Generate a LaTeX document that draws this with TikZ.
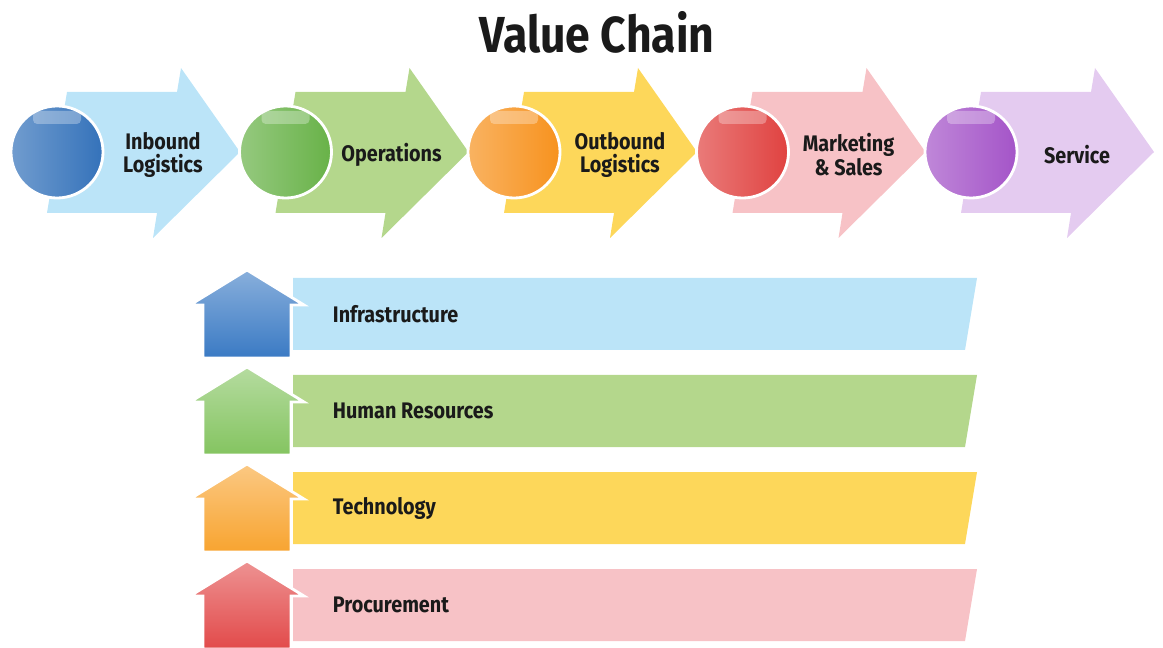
\documentclass[tikz,border=0pt]{standalone}
\usepackage{fontspec}
\setmainfont{Fira Sans}[FakeStretch=0.88]

\definecolor{arrBlue}{RGB}{187,228,248}
\definecolor{arrGreen}{RGB}{180,215,140}
\definecolor{arrYellow}{RGB}{253,215,90}
\definecolor{arrPink}{RGB}{247,194,198}
\definecolor{arrLilac}{RGB}{228,203,240}
\definecolor{ballBlue}{RGB}{52,114,186}
\definecolor{ballGreen}{RGB}{104,178,72}
\definecolor{ballOrange}{RGB}{247,146,30}
\definecolor{ballRed}{RGB}{224,66,64}
\definecolor{ballPurple}{RGB}{164,84,200}
\definecolor{houseBlue}{RGB}{58,122,196}
\definecolor{houseGreen}{RGB}{132,196,96}
\definecolor{houseOrange}{RGB}{248,164,48}
\definecolor{houseRed}{RGB}{226,74,74}
\definecolor{inkText}{RGB}{26,26,26}

\begin{document}
\begin{tikzpicture}[x=0.025cm, y=-0.025cm, font=\bfseries, text=inkText]
\useasboundingbox (0,0) rectangle (1163,648);

\node (title) at (597,32) {\fontsize{36}{40}\selectfont Value Chain};

% primary activities
\foreach \i/\fg/\bg/\txt in {0/ballBlue/arrBlue/{Inbound\\Logistics},
  1/ballGreen/arrGreen/{Operations}, 2/ballOrange/arrYellow/{Outbound\\Logistics},
  3/ballRed/arrPink/{Marketing\\\& Sales}, 4/ballPurple/arrLilac/{Service}} {
  \pgfmathsetmacro{\cx}{57+228.5*\i}
  \fill[\bg] (\cx+10,92) -- (\cx+120,92) -- (\cx+124,68) -- (\cx+183,152)
    -- (\cx+96,238) -- (\cx+100,213) -- (\cx-10,213) -- cycle;
  \node[circle, minimum size=2.3cm, inner sep=0pt, draw=white, line width=2pt,
    left color=\fg!70!white, right color=\fg] (c\i) at (\cx,152) {};
  \fill[white, opacity=0.3, rounded corners=3pt] (\cx-24,111) rectangle (\cx+24,124);
  \node[align=center, font=\bfseries\fontsize{16}{17}\selectfont] (l\i) at (\cx+106,155) {\txt};
}

% support activities
\foreach \k/\fg/\bg/\txt in {0/houseBlue/arrBlue/Infrastructure,
  1/houseGreen/arrGreen/Human Resources, 2/houseOrange/arrYellow/Technology,
  3/houseRed/arrPink/Procurement} {
  \pgfmathsetmacro{\ytop}{278+97*\k}
  \fill[\bg] (293,\ytop) -- (977,\ytop) -- (965,\ytop+72) -- (293,\ytop+72) -- cycle;
  \draw[white, line width=2pt, top color=\fg!60!white, bottom color=\fg]
    (247,\ytop-8) -- (304,\ytop+27) -- (291,\ytop+27) -- (291,\ytop+80)
    -- (203,\ytop+80) -- (203,\ytop+27) -- (190,\ytop+27) -- cycle;
  \node[anchor=west, font=\bfseries\fontsize{16}{17}\selectfont] (s\k) at (328,\ytop+36) {\txt};
}

\end{tikzpicture}
\end{document}
